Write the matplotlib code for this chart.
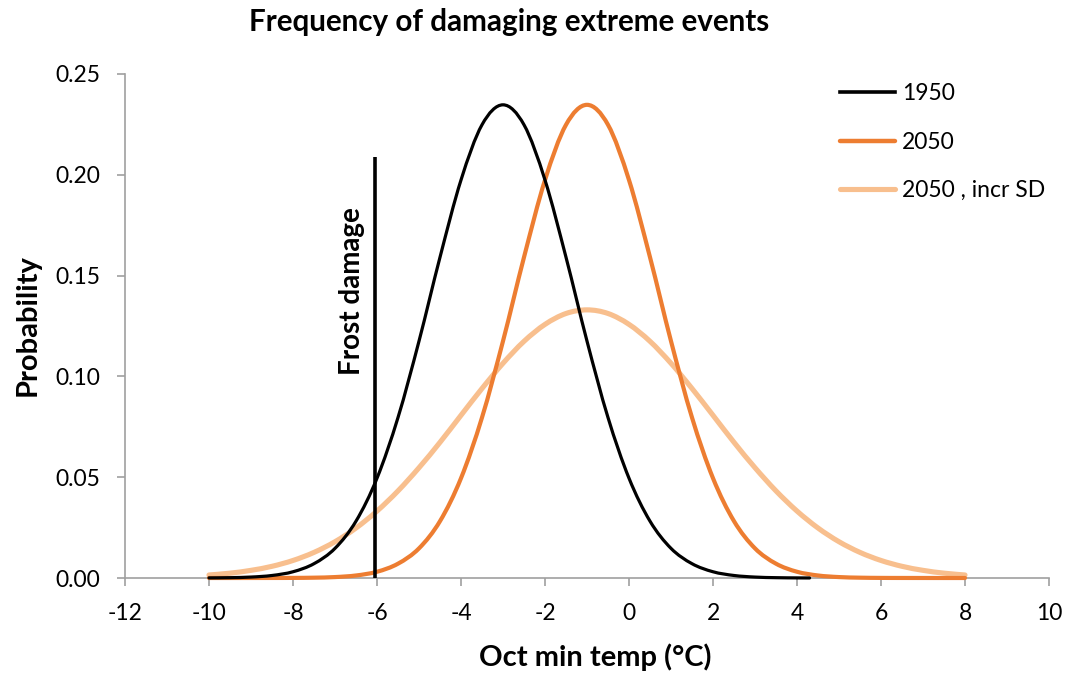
import matplotlib
matplotlib.use("Agg")
import matplotlib.pyplot as plt
from matplotlib.path import Path
from matplotlib.patches import PathPatch
from matplotlib.lines import Line2D
from matplotlib.ticker import FormatStrFormatter, MultipleLocator

# ---- data ----
x_1950 = [-10.0, -9.5, -9.0, -8.5, -8.0, -7.5, -7.0, -6.5, -6.0, -5.5, -5.0, -4.5, -4.0,
          -3.5, -3.0, -2.5, -2.0, -1.5, -1.0, -0.5, 0.0, 0.5, 1.0, 1.5, 2.0, 2.5, 3.0,
          3.5, 4.0, 4.3]
y_1950 = [0.00005, 0.00016, 0.00046, 0.00125, 0.0031, 0.0071, 0.0147, 0.0282, 0.0495,
          0.0796, 0.1175, 0.1591, 0.1974, 0.2248, 0.2347, 0.2248, 0.1974, 0.1591, 0.1175,
          0.0796, 0.0495, 0.0282, 0.0147, 0.0071, 0.0031, 0.00125, 0.00046, 0.00016,
          0.00005, 0.00002]

x_2050 = [-10.0, -9.5, -9.0, -8.5, -8.0, -7.5, -7.0, -6.5, -6.0, -5.5, -5.0, -4.5, -4.0,
          -3.5, -3.0, -2.5, -2.0, -1.5, -1.0, -0.5, 0.0, 0.5, 1.0, 1.5, 2.0, 2.5, 3.0,
          3.5, 4.0, 4.5, 5.0, 5.5, 6.0, 6.5, 7.0, 7.5, 8.0]
y_2050 = [0.0, 0.0, 0.00001, 0.00002, 0.00005, 0.00016, 0.00046, 0.00125, 0.0031, 0.0071,
          0.0147, 0.0282, 0.0495, 0.0796, 0.1175, 0.1591, 0.1974, 0.2248, 0.2347, 0.2248,
          0.1974, 0.1591, 0.1175, 0.0796, 0.0495, 0.0282, 0.0147, 0.0071, 0.0031,
          0.00125, 0.00046, 0.00016, 0.00005, 0.00002, 0.00001, 0.0, 0.0]

x_2050sd = x_2050
y_2050sd = [0.0015, 0.0024, 0.0038, 0.0058, 0.0087, 0.0127, 0.0180, 0.0248, 0.0332,
            0.0432, 0.0547, 0.0673, 0.0807, 0.0940, 0.1065, 0.1174, 0.1258, 0.1312,
            0.1330, 0.1312, 0.1258, 0.1174, 0.1065, 0.0940, 0.0807, 0.0673, 0.0547,
            0.0432, 0.0332, 0.0248, 0.0180, 0.0127, 0.0087, 0.0058, 0.0038, 0.0024,
            0.0015]

frost_x = [-6.05, -6.05]
frost_y = [0.0, 0.209]

series_labels = ["1950", "2050", "2050 , incr SD"]
title = "Frequency of damaging extreme events"
xlabel = "Oct min temp (°C)"
ylabel = "Probability"
frost_label = "Frost damage"

FONT = ["Lato", "DejaVu Sans"]
plt.rcParams["font.family"] = FONT
plt.rcParams["axes.unicode_minus"] = False

COL_1950 = "black"
COL_2050 = "#ED7D31"
COL_SD = "#F8BF8E"


def smooth_patch(xs, ys, color, lw, z):
    """Excel-style smoothed line (Catmull-Rom Bezier through the data points)."""
    n = len(xs)
    verts = [(xs[0], ys[0])]
    codes = [Path.MOVETO]
    for i in range(n - 1):
        i0 = i - 1 if i > 0 else i
        i3 = i + 2 if i + 2 < n else i + 1
        c1 = (xs[i] + (xs[i + 1] - xs[i0]) / 6.0, ys[i] + (ys[i + 1] - ys[i0]) / 6.0)
        c2 = (xs[i + 1] - (xs[i3] - xs[i]) / 6.0, ys[i + 1] - (ys[i3] - ys[i]) / 6.0)
        verts += [c1, c2, (xs[i + 1], ys[i + 1])]
        codes += [Path.CURVE4] * 3
    return PathPatch(Path(verts, codes), facecolor="none", edgecolor=color, lw=lw,
                     capstyle="round", joinstyle="round", zorder=z, clip_on=False)


fig = plt.figure(figsize=(10.69, 6.75), dpi=100)
ax = fig.add_axes([125 / 1069, 0.1437, 924 / 1069, 0.7467])

ax.add_patch(smooth_patch(x_2050sd, y_2050sd, COL_SD, 3.7, 2))
ax.add_patch(smooth_patch(x_2050, y_2050, COL_2050, 3.0, 3))
ax.add_patch(smooth_patch(x_1950, y_1950, COL_1950, 2.3, 4))
ax.plot(frost_x, frost_y, color="black", lw=2.6, zorder=5, solid_capstyle="butt")
ax.text(-6.6, 0.1424, frost_label, rotation=90, ha="center", va="center",
        fontsize=20, fontweight="bold")

ax.set_xlim(-12, 10)
ax.set_ylim(0, 0.25)
ax.xaxis.set_major_locator(MultipleLocator(2))
ax.yaxis.set_major_locator(MultipleLocator(0.05))
ax.yaxis.set_major_formatter(FormatStrFormatter("%.2f"))

for s in ["top", "right"]:
    ax.spines[s].set_visible(False)
for s in ["left", "bottom"]:
    ax.spines[s].set_color("#A0A0A0")
    ax.spines[s].set_linewidth(1.2)
ax.tick_params(axis="both", direction="out", length=6, width=1.2, color="#A0A0A0",
               labelsize=16.5, labelcolor="black")
ax.tick_params(axis="x", pad=12)
ax.tick_params(axis="y", pad=12)

fig.text(0.5566, 0.0267, xlabel, ha="center", va="center", fontsize=21,
         fontweight="bold")
fig.text(0.0262, 0.5185, ylabel, ha="center", va="center", rotation=90, fontsize=21,
         fontweight="bold")
fig.text(0.476, 0.968, title, ha="center", va="center", fontsize=21.3,
         fontweight="bold")

handles = [Line2D([], [], color=COL_1950, lw=2.6),
           Line2D([], [], color=COL_2050, lw=3.2, solid_capstyle="round"),
           Line2D([], [], color=COL_SD, lw=3.7, solid_capstyle="round")]
ax.legend(handles, series_labels, loc="upper left", bbox_to_anchor=(0.774, 0.982),
          frameon=False, fontsize=16.5, handlelength=2.4, labelspacing=1.2,
          handletextpad=0.3, borderpad=0, borderaxespad=0)

fig.savefig("out.png", dpi=100)
